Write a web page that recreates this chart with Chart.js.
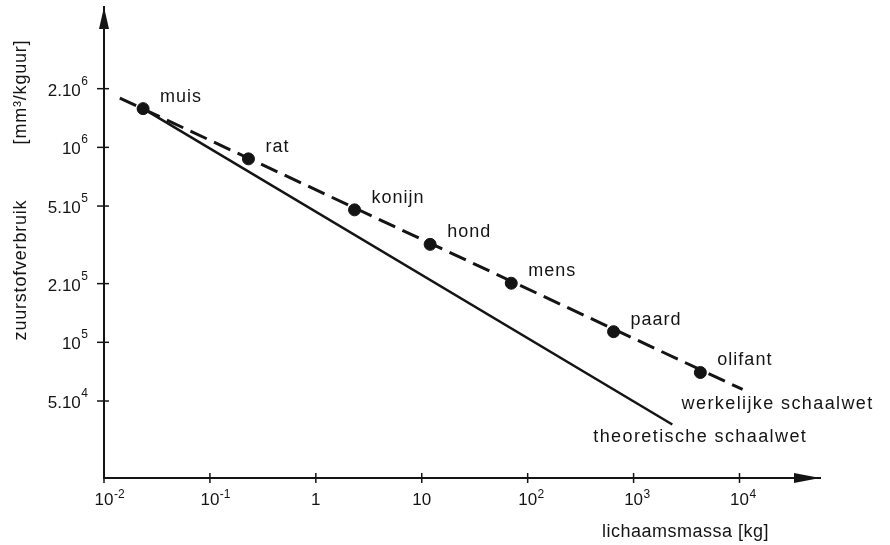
<!DOCTYPE html>
<html><head><meta charset="utf-8">
<script src="https://cdn.jsdelivr.net/npm/chart.js@4.4.1/dist/chart.umd.min.js"></script>
<style>html,body{margin:0;padding:0;background:#fff;}canvas{display:block}</style>
</head><body>
<canvas id="c" width="890" height="545"></canvas>
<script>
// ---- data ----
const animals = ['muis', 'rat', 'konijn', 'hond', 'mens', 'paard', 'olifant'];
const bodyMass = [0.0234, 0.231, 2.32, 12.0, 70, 647, 4270];            // kg
const oxygenUse = [1.58e6, 8.73e5, 4.78e5, 3.18e5, 2.01e5, 1.134e5, 7.0e4]; // mm3/kg uur
const actualLawMass = [0.0141, 10700];
const actualLawOxygen = [1.79e6, 5.73e4];
const theoryLawMass = [0.0234, 2320];
const theoryLawOxygen = [1.58e6, 3.79e4];
const xTickValues = [0.01, 0.1, 1, 10, 100, 1000, 10000];
const xTickLabels = ['10\u207B\u00B2', '10\u207B\u00B9', '1', '10', '10\u00B2', '10\u00B3', '10\u2074'];
const yTickValues = [5e4, 1e5, 2e5, 5e5, 1e6, 2e6];
const yTickLabels = ['5.10\u2074', '10\u2075', '2.10\u2075', '5.10\u2075', '10\u2076', '2.10\u2076'];
const lineNames = ['werkelijke schaalwet', 'theoretische schaalwet'];
const xTitle = 'lichaamsmassa [kg]';
const yTitleMain = 'zuurstofverbruik';
const yTitleUnit = '[mm\u00B3/kguur]';

const INK = '#141414';
const FONT = '"Liberation Sans", Arial, sans-serif';

const toXY = (xs, ys) => xs.map((x, i) => ({x: x, y: ys[i]}));
const SUP = {'\u2070':'0','\u00B9':'1','\u00B2':'2','\u00B3':'3','\u2074':'4','\u2075':'5','\u2076':'6','\u2077':'7','\u2078':'8','\u2079':'9','\u207B':'-'};
function splitSup(s) {
  let base = '', exp = '';
  for (const ch of s) { if (SUP[ch] !== undefined) exp += SUP[ch]; else base += ch; }
  return [base, exp];
}

const decor = {
  id: 'decor',
  afterDatasetsDraw(chart) {
    const ctx = chart.ctx;
    const ca = chart.chartArea;
    const xs = chart.scales.x, ys = chart.scales.y;
    ctx.save();
    ctx.strokeStyle = INK; ctx.fillStyle = INK; ctx.lineWidth = 1.5;
    // tick marks crossing the axes
    xTickValues.forEach(v => {
      const px = xs.getPixelForValue(v);
      ctx.beginPath(); ctx.moveTo(px, ca.bottom - 5); ctx.lineTo(px, ca.bottom + 5); ctx.stroke();
    });
    yTickValues.forEach(v => {
      const py = ys.getPixelForValue(v);
      ctx.beginPath(); ctx.moveTo(ca.left - 7, py); ctx.lineTo(ca.left + 5, py); ctx.stroke();
    });
    // arrow heads
    ctx.beginPath();
    ctx.moveTo(ca.left, ca.top); ctx.lineTo(ca.left - 5, ca.top + 22); ctx.lineTo(ca.left + 5, ca.top + 22); ctx.closePath(); ctx.fill();
    ctx.beginPath();
    ctx.moveTo(ca.right, ca.bottom); ctx.lineTo(ca.right - 26, ca.bottom - 5); ctx.lineTo(ca.right - 26, ca.bottom + 5); ctx.closePath(); ctx.fill();

    // tick labels with real superscripts
    ctx.textBaseline = 'alphabetic'; ctx.textAlign = 'left';
    xs.ticks.forEach((t, i) => {
      const [base, exp] = splitSup(xTickLabels[xTickValues.indexOf(t.value)] || '');
      const px = xs.getPixelForValue(t.value);
      ctx.font = '17px ' + FONT;
      const wb = ctx.measureText(base).width;
      const bx = px - wb / 2, by = ca.bottom + 27;
      ctx.fillText(base, bx, by);
      if (exp) { ctx.font = '12px ' + FONT; ctx.fillText(exp, bx + wb + 0.5, by - 7); }
    });
    ys.ticks.forEach((t, i) => {
      const [base, exp] = splitSup(yTickLabels[yTickValues.indexOf(t.value)] || '');
      const py = ys.getPixelForValue(t.value);
      ctx.font = '17px ' + FONT;
      const wb = ctx.measureText(base).width;
      ctx.font = '12px ' + FONT;
      const we = ctx.measureText(exp).width;
      const bx = ca.left - 16 - we - wb - 0.5, by = py + 7;
      ctx.font = '17px ' + FONT;
      ctx.fillText(base, bx, by);
      ctx.font = '12px ' + FONT;
      ctx.fillText(exp, bx + wb + 0.5, by - 11);
    });

    // animal labels
    ctx.font = '18px ' + FONT;
    ctx.letterSpacing = '1px';
    ctx.textAlign = 'left'; ctx.textBaseline = 'middle';
    const pts = chart.getDatasetMeta(2).data;
    pts.forEach((p, i) => { ctx.fillText(animals[i], p.x + 17, p.y - 12); });
    // line labels
    ctx.letterSpacing = '1.4px';
    const aEnd = chart.getDatasetMeta(0).data[1];
    ctx.fillText(lineNames[0], aEnd.x - 61, aEnd.y + 15);
    const tEnd = chart.getDatasetMeta(1).data[1];
    ctx.fillText(lineNames[1], tEnd.x - 79, tEnd.y + 13);
    // axis titles
    ctx.letterSpacing = '0.5px';
    ctx.textAlign = 'left';
    ctx.fillText(xTitle, 602, 532);
    ctx.save();
    ctx.translate(21, 0);
    ctx.rotate(-Math.PI / 2);
    ctx.letterSpacing = '0.8px';
    ctx.textAlign = 'center';
    ctx.fillText(yTitleMain, -270, 0);
    ctx.fillText(yTitleUnit, -92, 0);
    ctx.restore();
    ctx.restore();
  }
};

const noPad = s => { s.paddingTop = 0; s.paddingBottom = 0; s.paddingLeft = 0; s.paddingRight = 0; };

new Chart(document.getElementById('c'), {
  type: 'scatter',
  data: {
    datasets: [
      { label: lineNames[0], data: toXY(actualLawMass, actualLawOxygen), showLine: true,
        borderColor: INK, borderWidth: 3, borderDash: [18, 8], pointRadius: 0, clip: false },
      { label: lineNames[1], data: toXY(theoryLawMass, theoryLawOxygen), showLine: true,
        borderColor: INK, borderWidth: 2.5, pointRadius: 0, clip: false },
      { label: 'dieren', data: toXY(bodyMass, oxygenUse), showLine: false,
        pointRadius: 6, pointBackgroundColor: INK, pointBorderColor: INK, clip: false }
    ]
  },
  options: {
    responsive: false, animation: false, devicePixelRatio: 1,
    layout: { padding: { top: 5, right: 70, left: 0, bottom: 0 } },
    plugins: { legend: { display: false }, tooltip: { enabled: false } },
    scales: {
      x: {
        type: 'logarithmic', min: 0.01, max: Math.pow(10, 4.76),
        afterBuildTicks: s => { s.ticks = xTickValues.map(v => ({value: v})); },
        afterFit: s => { s.height = 67; noPad(s); },
        grid: { display: false, drawTicks: false },
        border: { display: true, color: INK, width: 2 },
        ticks: { display: false, autoSkip: false,
          callback: v => { const i = xTickValues.indexOf(v); return i >= 0 ? xTickLabels[i] : ''; } }
      },
      y: {
        type: 'logarithmic', min: Math.pow(10, 4.304), max: Math.pow(10, 6.72),
        afterBuildTicks: s => { s.ticks = yTickValues.map(v => ({value: v})); },
        afterFit: s => { s.width = 104; noPad(s); },
        grid: { display: false, drawTicks: false },
        border: { display: true, color: INK, width: 2 },
        ticks: { display: false, autoSkip: false,
          callback: v => { const i = yTickValues.indexOf(v); return i >= 0 ? yTickLabels[i] : ''; } }
      }
    }
  },
  plugins: [decor]
});
</script>
</body></html>
